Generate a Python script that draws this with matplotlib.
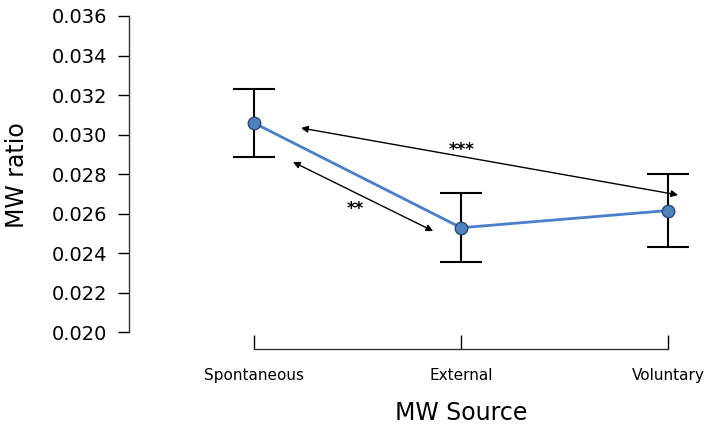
import matplotlib.pyplot as plt

sources = ["Spontaneous", "External", "Voluntary"]
mw_ratio = [0.03058, 0.02528, 0.02615]
mw_err = [0.00172, 0.00174, 0.00185]
y_ticks = [0.020, 0.022, 0.024, 0.026, 0.028, 0.030, 0.032, 0.034, 0.036]

# significance arrows: (x0, y0, x1, y1, label, label_x, label_y)
sig_arrows = [
    (0.227, 0.03033, 2.048, 0.02694, "***", 1.005, 0.02922),
    (0.188, 0.02861, 0.865, 0.02511, "**", 0.488, 0.02623),
]

fig = plt.figure(figsize=(7.14, 4.34), dpi=100)
ax = fig.add_axes([129 / 714, (434 - 349) / 434, (705 - 129) / 714, (349 - 16) / 434])

x = list(range(len(sources)))
ax.errorbar(x, mw_ratio, yerr=mw_err, fmt="none", ecolor="black",
            elinewidth=1.5, capsize=15, capthick=1.5, zorder=2)
ax.plot(x, mw_ratio, color="#4A7EC7", linewidth=2, marker="o", markersize=9,
        markerfacecolor="#4F81BD", markeredgecolor="#2B4A73", markeredgewidth=1, zorder=3)

for x0, y0, x1, y1, label, lx, ly in sig_arrows:
    ax.annotate("", xy=(x1, y1), xytext=(x0, y0),
                arrowprops=dict(arrowstyle="<|-|>", color="black", lw=1,
                                mutation_scale=10, shrinkA=0, shrinkB=0))
    ax.text(lx, ly, label, ha="center", va="center", fontsize=12, fontweight="bold")

ax.set_xlim(-0.604, 2.178)
ax.set_ylim(0.01914, 0.036)
ax.set_yticks(y_ticks)
ax.set_yticklabels([f"{v:.3f}" for v in y_ticks], fontsize=14)
ax.set_xticks(x)
ax.set_xticklabels(sources, fontsize=11)

ax.spines["top"].set_visible(False)
ax.spines["right"].set_visible(False)
ax.spines["left"].set_bounds(0.020, 0.036)
ax.spines["bottom"].set_bounds(0, 2)
for s in ("left", "bottom"):
    ax.spines[s].set_color("#333333")
    ax.spines[s].set_linewidth(1)
ax.tick_params(axis="y", direction="out", length=8, width=1, pad=8, colors="black")
ax.tick_params(axis="x", direction="in", length=10, width=1, pad=14)

ax.set_xlabel("MW Source", fontsize=17)
ax.set_ylabel("MW ratio", fontsize=17)
ax.xaxis.set_label_coords((461 - 129) / 576, -52 / 333)
ax.yaxis.set_label_coords(-100 / 576, (349 - 175) / 333)

fig.savefig("out.png", dpi=100)
